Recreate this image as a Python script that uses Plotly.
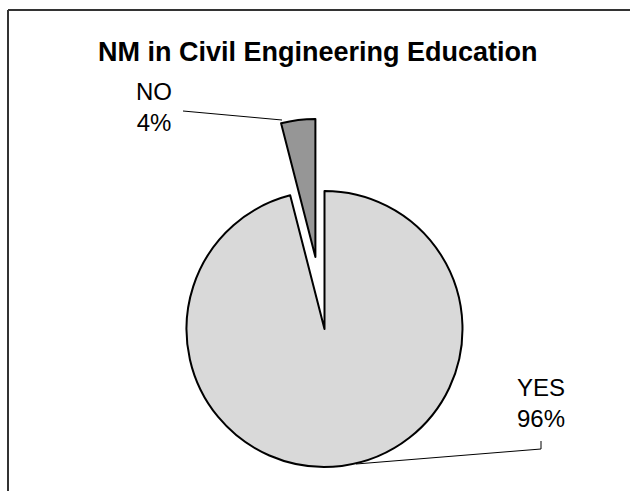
import math
import plotly.graph_objects as go

# ---- data ----
labels = ["YES", "NO"]
values = [96, 4]
percent_text = ["96%", "4%"]
colors = ["#d9d9d9", "#969696"]
title_text = "NM in Civil Engineering Education"

# ---- layout parameters (pixels) ----
W, H = 630, 491
cx, cy, r = 324.5, 329.0, 138.0      # pie centre / radius (px from top-left)
pull_px = 72.6                        # exploded distance of NO slice

def domain(cxp, cyp, rad):
    return dict(x=[(cxp - rad) / W, (cxp + rad) / W],
                y=[1 - (cyp + rad) / H, 1 - (cyp - rad) / H])

# NO slice is the last one clockwise, i.e. just left of 12 o'clock
share = values[1] / sum(values)
bis = math.radians(share * 360 / 2)
ncx = cx - pull_px * math.sin(bis)
ncy = cy - pull_px * math.cos(bis)

transparent = "rgba(0,0,0,0)"

fig = go.Figure()
# YES slice (NO hidden)
fig.add_trace(go.Pie(
    labels=labels, values=values, sort=False, direction="clockwise",
    rotation=0, textinfo="none", hoverinfo="skip", showlegend=False,
    marker=dict(colors=[colors[0], transparent],
                line=dict(color=["black", transparent], width=2)),
    domain=domain(cx, cy, r)))
# NO slice (exploded, YES hidden)
fig.add_trace(go.Pie(
    labels=labels, values=values, sort=False, direction="clockwise",
    rotation=0, textinfo="none", hoverinfo="skip", showlegend=False,
    marker=dict(colors=[transparent, colors[1]],
                line=dict(color=[transparent, "black"], width=2)),
    domain=domain(ncx, ncy, r)))

def px(x):
    return x / W

def py(y):
    return 1 - y / H

font = dict(family="Liberation Sans, Arial, sans-serif", size=24, color="black")

annotations = [
    dict(text=f"<b>{title_text}</b>", x=px(318), y=py(52), xref="paper", yref="paper",
         showarrow=False, font=dict(family="Liberation Sans, Arial, sans-serif", size=27, color="black"),
         xanchor="center", yanchor="middle"),
    dict(text=f"{labels[1]}<br>{percent_text[1]}", x=px(154), y=py(107), xref="paper", yref="paper",
         showarrow=False, font=font, xanchor="center", yanchor="middle"),
    dict(text=f"{labels[0]}<br>{percent_text[0]}", x=px(541), y=py(403), xref="paper", yref="paper",
         showarrow=False, font=font, xanchor="center", yanchor="middle"),
]

line_style = dict(color="black", width=1)
shapes = [
    # chart frame (top & left visible)
    dict(type="line", xref="paper", yref="paper", x0=px(8), y0=py(10), x1=px(640), y1=py(10),
         line=dict(color="#333333", width=2)),
    dict(type="line", xref="paper", yref="paper", x0=px(8), y0=py(10), x1=px(8), y1=py(500),
         line=dict(color="#333333", width=2)),
    # NO leader line
    dict(type="line", xref="paper", yref="paper", x0=px(183), y0=py(111), x1=px(282), y1=py(120),
         line=line_style),
    # YES leader line
    dict(type="line", xref="paper", yref="paper", x0=px(541), y0=py(441), x1=px(541), y1=py(449),
         line=line_style),
    dict(type="line", xref="paper", yref="paper", x0=px(541), y0=py(449), x1=px(356), y1=py(464),
         line=line_style),
]

fig.update_layout(
    width=W, height=H,
    margin=dict(l=0, r=0, t=0, b=0),
    paper_bgcolor="white", plot_bgcolor="white",
    annotations=annotations, shapes=shapes,
    showlegend=False,
)

fig.write_html("out.html", config={"displayModeBar": False},
               post_script="document.body.style.margin='0';document.body.style.overflow='hidden';")
